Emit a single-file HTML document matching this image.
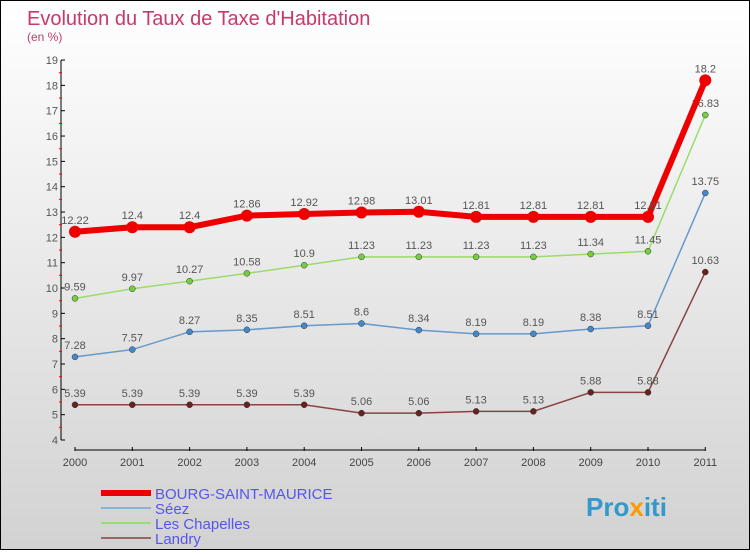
<!DOCTYPE html>
<html><head><meta charset="utf-8"><style>
body{margin:0}
#c{width:748px;height:548px;border:1px solid #000;background:linear-gradient(#ffffff,#d2d2d2);position:relative;font-family:"Liberation Sans",sans-serif}
svg text{font-family:"Liberation Sans",sans-serif}
</style></head><body>
<div id="c">
<svg id="s" width="748" height="548">
<text x="26" y="24" font-size="20" fill="#c8386a">Evolution du Taux de Taxe d'Habitation</text>
<text x="26" y="40" font-size="12" fill="#c8386a">(en %)</text>
<g id="g"></g>
<text x="585" y="515" font-size="26" font-weight="bold" fill="#3399cc">Pro<tspan fill="#ff9900">x</tspan>iti</text>
</svg></div>
<script>
const years=[2000,2001,2002,2003,2004,2005,2006,2007,2008,2009,2010,2011];
const yTicks=[4,5,6,7,8,9,10,11,12,13,14,15,16,17,18,19];
const names=["BOURG-SAINT-MAURICE","Séez","Les Chapelles","Landry"];
const bsm=[12.22,12.4,12.4,12.86,12.92,12.98,13.01,12.81,12.81,12.81,12.81,18.2];
const seez=[7.28,7.57,8.27,8.35,8.51,8.6,8.34,8.19,8.19,8.38,8.51,13.75];
const chap=[9.59,9.97,10.27,10.58,10.9,11.23,11.23,11.23,11.23,11.34,11.45,16.83];
const landry=[5.39,5.39,5.39,5.39,5.39,5.06,5.06,5.13,5.13,5.88,5.88,10.63];
const NS="http://www.w3.org/2000/svg",g=document.getElementById('g');
const X=i=>74+i*57.3, Y=v=>439-(v-4)*25.33;
function mk(t,a,p){const e=document.createElementNS(NS,t);for(const k in a)e.setAttribute(k,a[k]);(p||g).appendChild(e);return e;}
let e=mk('line',{x1:60,y1:Y(19),x2:60,y2:Y(4),stroke:'#000'});

e=mk('line',{x1:X(0),y1:449,x2:X(11),y2:449,stroke:'#000'});

yTicks.forEach(v=>{mk('line',{x1:60,y1:Y(v),x2:64,y2:Y(v),stroke:'#000'});
 if(v<19)mk('line',{x1:58,y1:Y(v+0.5),x2:61,y2:Y(v+0.5),stroke:'#f00'});
 const t=mk('text',{x:57,y:Y(v)+4,'font-size':11,fill:'#555','text-anchor':'end'});t.textContent=v;
 });
years.forEach((y,i)=>{mk('line',{x1:X(i),y1:446,x2:X(i),y2:450,stroke:'#000'});
 const t=mk('text',{x:X(i),y:465,'font-size':11,fill:'#444','text-anchor':'middle'});t.textContent=y;
 });
const series=[[chap,'#99dd66','#77cc44',1.5,3],[seez,'#6699cc','#4488cc',1.5,3],[landry,'#884444','#662222',1.5,3],[bsm,'#ee0000','#ee0000',6,6]];
const snames=['les-chapelles','seez','landry','bourg-saint-maurice'];
series.forEach(([d,c,pc,w,r],k)=>{
 const l=mk('polyline',{points:d.map((v,i)=>X(i)+','+Y(v)).join(' '),fill:'none',stroke:c,'stroke-width':w});
 
 d.forEach((v,i)=>{const p=mk('circle',{cx:X(i),cy:Y(v),r:r,fill:pc,stroke:k==3?'none':'#333','stroke-width':0.5});
  
  const t=mk('text',{x:X(i),y:Y(v)-8,'font-size':11,fill:'#555','text-anchor':'middle'});t.textContent=v;
  });
});
const leg=[['#ee0000',6],['#88b4d4',2],['#99dd77',2],['#996666',2]];
names.forEach((n,i)=>{const y=492+i*15;
 const l=mk('line',{x1:100,y1:y,x2:150,y2:y,stroke:leg[i][0],'stroke-width':leg[i][1]});
 
 const t=mk('text',{x:154,y:y+6,'font-size':15,fill:'#5555ee'});t.textContent=n;
 });
</script></body></html>
